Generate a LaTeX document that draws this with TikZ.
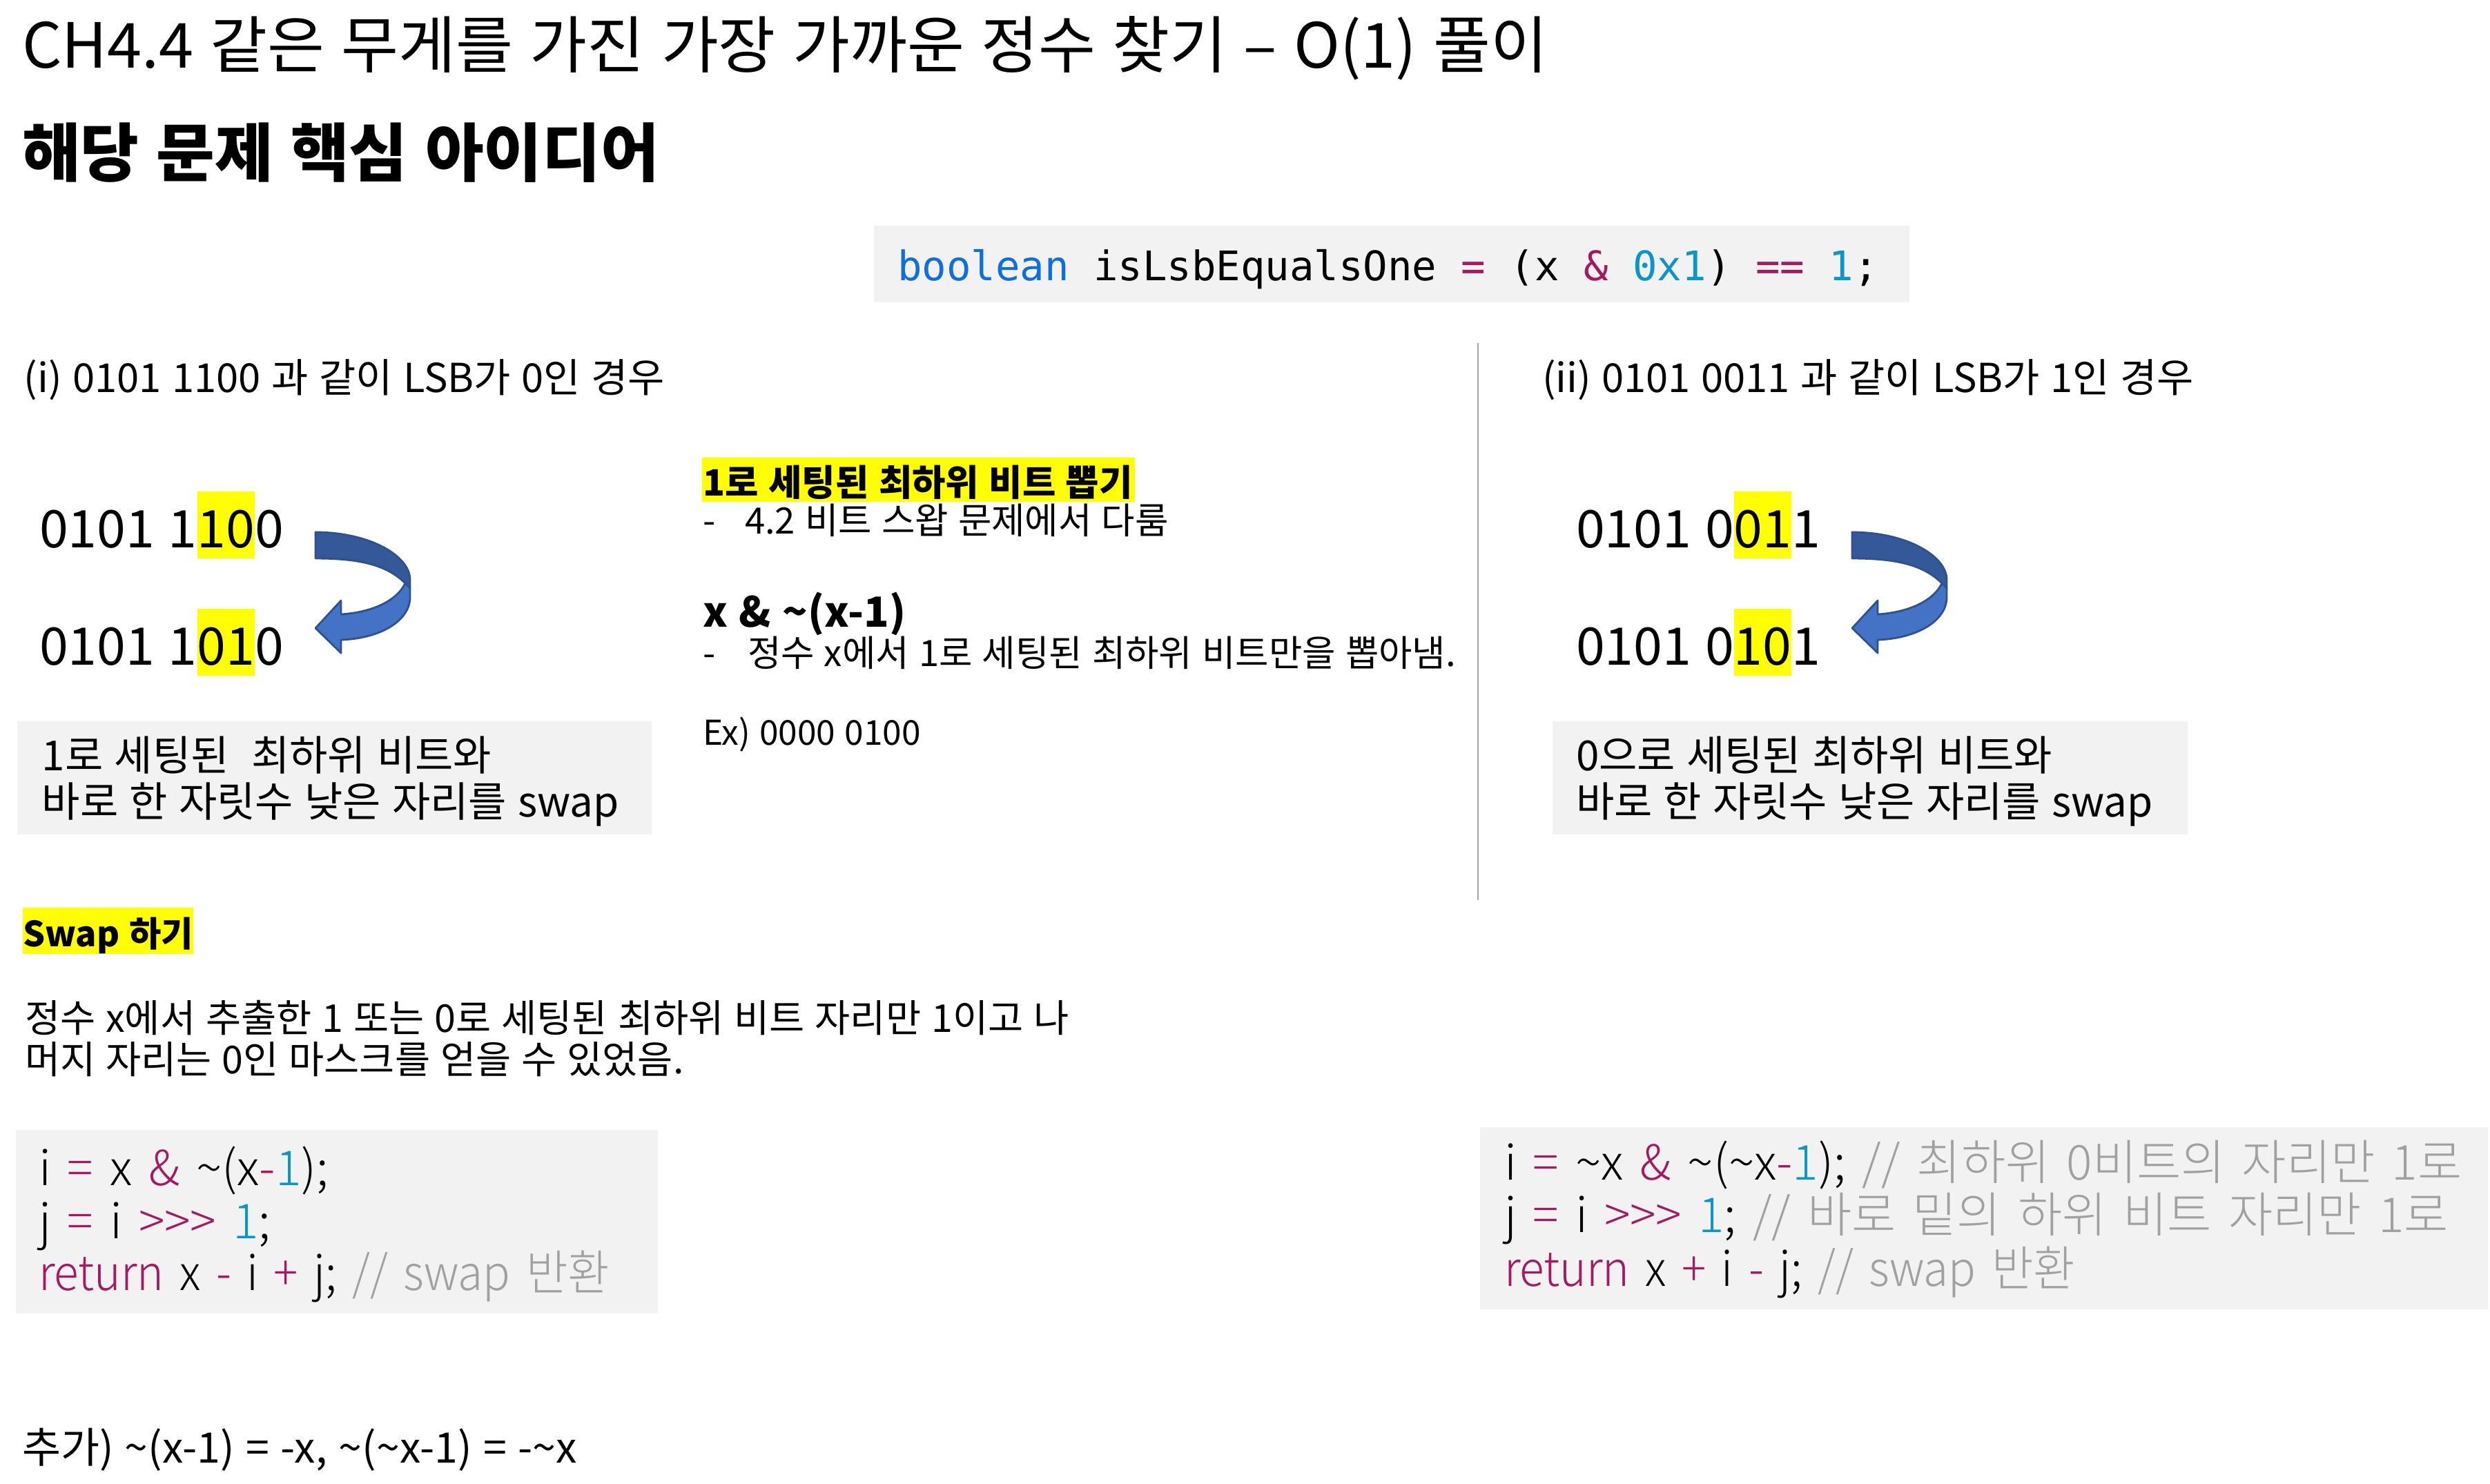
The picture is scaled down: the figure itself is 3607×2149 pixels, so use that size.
\documentclass[tikz,border=0pt]{standalone}
\usepackage{fontspec}
\setmainfont{Noto Sans CJK KR}[WordSpace=1.2]
\newfontfamily\codefont{Noto Sans CJK KR Light}[WordSpace=1.55]
\newfontfamily\monofont{DejaVu Sans Mono}
\definecolor{hly}{HTML}{FFFF00}
\definecolor{boxg}{HTML}{F2F2F2}
\definecolor{kw}{RGB}{15,110,225}
\definecolor{op}{RGB}{168,24,94}
\definecolor{num}{RGB}{10,150,200}
\definecolor{cmt}{RGB}{160,160,160}
\definecolor{divg}{RGB}{166,166,166}
\definecolor{arrd}{RGB}{52,88,152}
\definecolor{arrl}{HTML}{4472C4}
\definecolor{arro}{HTML}{2F528F}
\newcommand\fs[1]{\fontsize{#1pt}{#1pt}\selectfont}
\newcommand\hlbox[3]{{\setlength{\fboxsep}{0pt}\colorbox{hly}{\rule[-#1]{0pt}{#2}#3}}}
\newcommand\hlbig[1]{\hlbox{4.26pt}{25.82pt}{#1}}
\newcommand\tl{\textasciitilde}
\newcommand\shr{>\kern0pt>\kern0pt>}
\begin{document}
\begin{tikzpicture}[x=0.26615pt,y=-0.26615pt,
  txt/.style={anchor=base west,inner sep=0pt,outer sep=0pt},
  graybox/.style={fill=boxg,draw=none},
  arrowdark/.style={fill=arrd,draw=arro,line width=0.75pt,line join=round},
  arrowlight/.style={fill=arrl,draw=arro,line width=0.75pt,line join=round}]
\useasboundingbox[fill=white] (0,0) rectangle (3607,2149);

% titles
\node[txt] (title) at (32,98) {\fs{24}CH4.4 같은 무게를 가진 가장 가까운 정수 찾기 – O(1) 풀이};
\node[txt] (sub) at (32,255) {\fs{24.5}\bfseries 해당 문제 핵심 아이디어};

% LSB code
\fill[graybox] (1266,327) rectangle (2766,438);
\node[txt] (lsb) at (1300,406) {\monofont\fs{15.7}\textcolor{kw}{boolean} isLsbEqualsOne \textcolor{op}{=} (x \textcolor{op}{\&} \textcolor{num}{0x1}) \textcolor{op}{==} \textcolor{num}{1};};

% case headers
\node[txt] (caseA) at (35,568) {\fs{15.4}(i) 0101 1100 과 같이 LSB가 0인 경우};
\node[txt] (caseB) at (2234,568) {\fs{15.4}(ii) 0101 0011 과 같이 LSB가 1인 경우};

% big numbers
\node[txt] (a1) at (57,793) {\fs{20}0101 1\hlbig{10}0};
\node[txt] (a2) at (57,963) {\fs{20}0101 1\hlbig{01}0};
\node[txt] (b1) at (2283,793) {\fs{20}0101 0\hlbig{01}1};
\node[txt] (b2) at (2283,963) {\fs{20}0101 0\hlbig{10}1};

% curved arrows
\foreach \dx in {0,2226}{
\begin{scope}[shift={(\dx,0)}]
\path[arrowdark] (457,771) .. controls (535,771) and (594,805) .. (594,840) -- (594,852) -- (587,845) .. controls (560,818) and (520,809) .. (457,809) -- cycle;
\path[arrowlight] (587,845) -- (594,852) -- (594,865) .. controls (594,900) and (550,925) .. (494,927) -- (494,946) -- (457,910) -- (494,870) -- (494,890) .. controls (540,887) and (575,870) .. (587,845) -- cycle;
\end{scope}}

% gray note boxes
\fill[graybox] (25,1045) rectangle (944,1209);
\node[txt] (a3) at (61,1116) {\fs{16}1로 세팅된\ \ 최하위 비트와};
\node[txt] (a4) at (61,1183) {\fs{16}바로 한 자릿수 낮은 자리를 swap};
\fill[graybox] (2249,1045) rectangle (3169,1209);
\node[txt] (b3) at (2283,1116) {\fs{16}0으로 세팅된 최하위 비트와};
\node[txt] (b4) at (2283,1183) {\fs{16}바로 한 자릿수 낮은 자리를 swap};

% middle column
\node[txt] (m1) at (1017,718) {\fs{14}\bfseries\hlbox{2.4pt}{17.04pt}{\hspace{0.4pt}1로 세팅된 최하위 비트 뽑기\hspace{0.8pt}}};
\node[txt] (m2d) at (1018,773) {\fs{14}-};
\node[txt] (m2) at (1079,773) {\fs{14}4.2 비트 스왑 문제에서 다룸};
\node[txt] (m3) at (1018,908) {\fs{16}\bfseries x \& \tl(x-1)};
\node[txt] (m4d) at (1018,965) {\fs{14}-};
\node[txt] (m4) at (1083,965) {\fs{14}정수 x에서 1로 세팅된 최하위 비트만을 뽑아냄.};
\node[txt] (m5) at (1018,1079) {\fs{13.2}Ex) 0000 0100};

% divider
\draw[divg,line width=0.75pt] (2141,497) -- (2141,1304);

% swap section
\node[txt] (s1) at (33,1371) {\fs{13.4}\bfseries\hlbox{2.93pt}{17.83pt}{Swap 하기}};
\node[txt] (s2) at (36,1495) {\fs{14.8}정수 x에서 추출한 1 또는 0로 세팅된 최하위 비트 자리만 1이고 나};
\node[txt] (s3) at (36,1555) {\fs{14.8}머지 자리는 0인 마스크를 얻을 수 있었음.};

% left code
\fill[graybox] (23,1637) rectangle (953,1903);
\node[txt] (c1) at (56,1717) {\codefont\fs{18.6}i \textcolor{op}{=} x \textcolor{op}{\&} \tl(x\textcolor{op}{-}\textcolor{num}{1});};
\node[txt] (c2) at (56,1794) {\codefont\fs{18.6}j \textcolor{op}{=} i \textcolor{op}{\shr} \textcolor{num}{1};};
\node[txt] (c3) at (56,1869) {\scalebox{0.94}[1]{\codefont\fs{18.6}\textcolor{op}{return} x \textcolor{op}{-} i \textcolor{op}{+} j; \textcolor{cmt}{// swap 반환}}};

% right code
\fill[graybox] (2144,1633) rectangle (3604,1897);
\node[txt] (d1) at (2179,1709) {\codefont\fs{18.6}i \textcolor{op}{=} \tl x \textcolor{op}{\&} \tl(\tl x\textcolor{op}{-}\textcolor{num}{1}); \textcolor{cmt}{// 최하위 0비트의 자리만 1로}};
\node[txt] (d2) at (2179,1785) {\codefont\fs{18.6}j \textcolor{op}{=} i \textcolor{op}{\shr} \textcolor{num}{1}; \textcolor{cmt}{// 바로 밑의 하위 비트 자리만 1로}};
\node[txt] (d3) at (2179,1863) {\scalebox{0.94}[1]{\codefont\fs{18.6}\textcolor{op}{return} x \textcolor{op}{+} i \textcolor{op}{-} j; \textcolor{cmt}{// swap 반환}}};

% footnote
\node[txt] (e1) at (32,2119) {\fs{16.2}추가) \tl(x-1) = -x, \tl(\tl x-1) = -\tl x};
\end{tikzpicture}
\end{document}
